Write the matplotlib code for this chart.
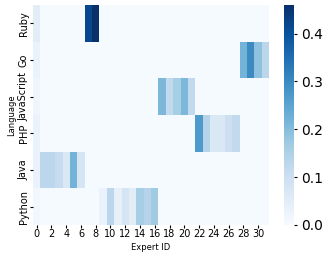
import numpy as np
import matplotlib
matplotlib.use("Agg")
import matplotlib.pyplot as plt
import seaborn as sns

languages = ["Ruby", "Go", "JavaScript", "PHP", "Java", "Python"]
n_experts = 32

# col 0 weights per language, then the active block for each language
col0 = [0.05, 0.03, 0.02, 0.03, 0.03, 0.015]
ruby_cols, ruby_vals = [7, 8], [0.42, 0.46]
go_cols, go_vals = [28, 29, 30, 31], [0.22, 0.30, 0.19, 0.13]
js_cols, js_vals = [17, 18, 19, 20, 21], [0.21, 0.12, 0.16, 0.21, 0.12]
php_cols, php_vals = [22, 23, 24, 25, 26, 27], [0.27, 0.14, 0.07, 0.07, 0.10, 0.12]
java_cols, java_vals = [1, 2, 3, 4, 5, 6], [0.13, 0.13, 0.11, 0.07, 0.22, 0.08]
py_cols, py_vals = [9, 10, 11, 12, 13, 14, 15, 16], [0.03, 0.13, 0.04, 0.08, 0.05, 0.16, 0.14, 0.17]

blocks = [(ruby_cols, ruby_vals), (go_cols, go_vals), (js_cols, js_vals),
          (php_cols, php_vals), (java_cols, java_vals), (py_cols, py_vals)]

M = np.full((len(languages), n_experts), 0.004)
for i, (cols, vals) in enumerate(blocks):
    M[i, 0] = col0[i]
    for c, v in zip(cols, vals):
        M[i, c] = v

fig = plt.figure(figsize=(3.27, 2.58), dpi=100)
ax = fig.add_axes([0.101, 0.128, 0.722, 0.853])
cax = fig.add_axes([0.868, 0.128, 0.031, 0.853])
sns.heatmap(M, ax=ax, cbar_ax=cax, cmap="Blues", vmin=0, vmax=0.46,
            xticklabels=2, yticklabels=languages)
ax.set_xticks(np.arange(0, n_experts, 2) + 0.5)
ax.set_xticklabels([str(i) for i in range(0, n_experts, 2)], rotation=0, fontsize=7)
ax.set_yticklabels(languages, rotation=90, va="center", fontsize=7)
ax.tick_params(length=2, pad=1)
ax.set_xlabel("Expert ID", fontsize=6, labelpad=3)
ax.set_ylabel("Language", fontsize=6, labelpad=2)
cax.tick_params(labelsize=10, length=2)
cax.set_yticks([0.0, 0.1, 0.2, 0.3, 0.4])

fig.savefig("out.png", dpi=100)
